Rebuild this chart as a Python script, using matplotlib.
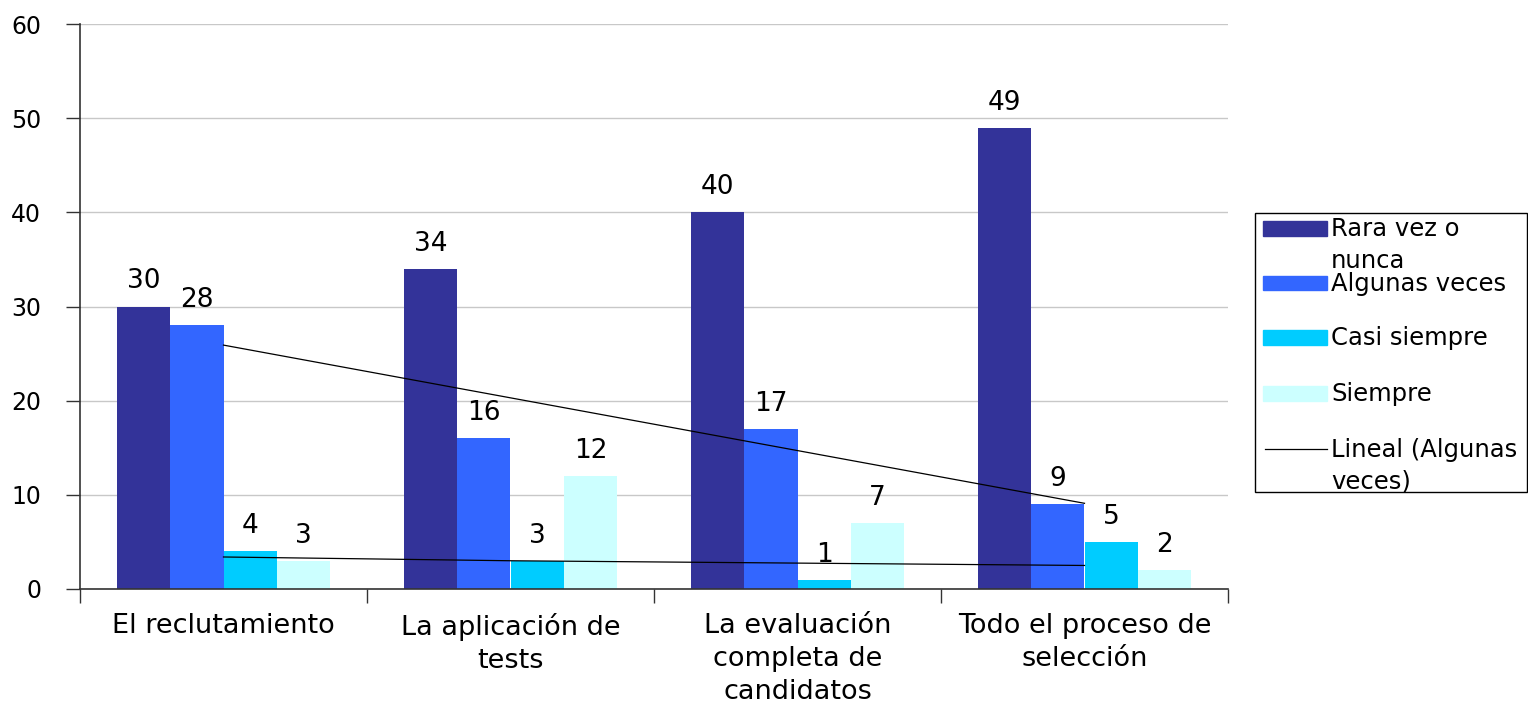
import numpy as np
import matplotlib
matplotlib.use('Agg')
import matplotlib.pyplot as plt
from matplotlib.patches import Rectangle
from matplotlib.lines import Line2D

# Data
categories = ['El reclutamiento', 'La aplicación de\ntests',
              'La evaluación\ncompleta de\ncandidatos', 'Todo el proceso de\nselección']
series_names = ['Rara vez o\nnunca', 'Algunas veces', 'Casi siempre', 'Siempre']
trend_name = 'Lineal (Algunas\nveces)'
rara_vez = [30, 34, 40, 49]
algunas_veces = [28, 16, 17, 9]
casi_siempre = [4, 3, 1, 5]
siempre = [3, 12, 7, 2]
# second (unlabelled) thin line near the bottom, values read at each category
low_line = [3.4, 3.0, 2.75, 2.5]

colors = ['#333399', '#3366FF', '#00CCFF', '#CCFFFF']
values = [rara_vez, algunas_veces, casi_siempre, siempre]

plt.rcParams['font.family'] = 'DejaVu Sans'

fig = plt.figure(figsize=(15.28, 7.07), dpi=100)
ax = fig.add_axes([80 / 1528, 1 - 589 / 707, 1148 / 1528, 565 / 707])

x = np.arange(len(categories)) + 0.5
w = 0.1857
for i, (vals, col) in enumerate(zip(values, colors)):
    pos = x + (i - 1.5) * w
    ax.bar(pos, vals, width=w, color=col, zorder=2)
    for px, v in zip(pos, vals):
        ax.annotate(str(v), (px, v), xytext=(0, 13), textcoords='offset points',
                    ha='center', va='baseline', fontsize=19)

# Linear trend of "Algunas veces"
k, b = np.polyfit(x, algunas_veces, 1)
ax.plot(x, k * x + b, color='black', lw=0.9, zorder=3)
ax.plot(x, low_line, color='black', lw=0.9, zorder=3)

ax.set_xlim(0, len(categories))
ax.set_ylim(0, 60)
ax.set_yticks(range(0, 61, 10))
ax.yaxis.grid(True, color='#c8c8c8', lw=1, zorder=0)
ax.set_axisbelow(True)

ax.set_xticks(np.arange(len(categories) + 1))
ax.set_xticklabels([])
ax.set_xticks(x, minor=True)
ax.set_xticklabels(categories, minor=True, fontsize=19.5, linespacing=1.35, va='top')
ax.tick_params(axis='x', which='major', length=10, width=1, color='#333333', direction='out')
ax.tick_params(axis='x', which='minor', length=0, pad=17)
ax.tick_params(axis='y', length=10, width=1, color='#333333', labelsize=17, pad=18)

for s in ['top', 'right']:
    ax.spines[s].set_visible(False)
for s in ['left', 'bottom']:
    ax.spines[s].set_color('#333333')
    ax.spines[s].set_linewidth(1.2)

# Manual legend (Excel style, fixed row spacing, text lines overflow)
W, H = 1528, 707
def fx(px):
    return px / W
def fy(py):
    return 1 - py / H

def legend_text(yy, label):
    for j, line in enumerate(label.split('\n')):
        fig.text(fx(1331), fy(yy + 8 + 32 * j), line, fontsize=17.5, ha='left',
                 va='baseline', transform=fig.transFigure)

fig.patches.append(Rectangle((fx(1255), fy(492)), fx(1527) - fx(1255), fy(213) - fy(492),
                             transform=fig.transFigure, fill=False, edgecolor='black', lw=1))
row_y = [228, 283, 337, 393, 449]
for name, col, yy in zip(series_names, colors, row_y[:4]):
    fig.patches.append(Rectangle((fx(1263), fy(yy + 7.5)), fx(1327) - fx(1263), 15 / H,
                                 transform=fig.transFigure, color=col))
    legend_text(yy, name)
fig.lines.append(Line2D([fx(1265), fx(1327)], [fy(row_y[4]), fy(row_y[4])], color='black',
                        lw=0.9, transform=fig.transFigure))
legend_text(row_y[4], trend_name)

fig.savefig('out.png', dpi=100)
